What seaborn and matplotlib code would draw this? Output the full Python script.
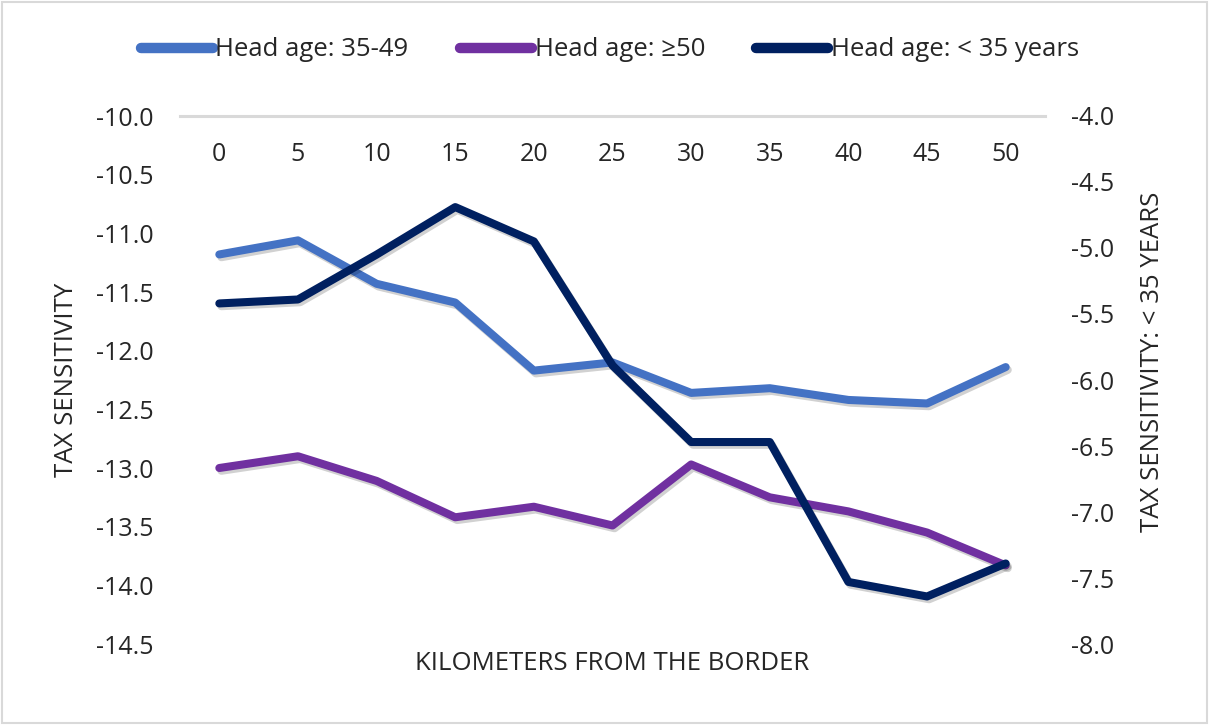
import numpy as np
import pandas as pd
import seaborn as sns
import matplotlib.pyplot as plt
import matplotlib.patheffects as pe
from matplotlib.lines import Line2D
from matplotlib.patches import Rectangle

#_____ data
km = [0, 5, 10, 15, 20, 25, 30, 35, 40, 45, 50]
age_35_49 = [-11.18, -11.06, -11.43, -11.59, -12.17, -12.10, -12.36, -12.32, -12.42, -12.45, -12.14]
age_50 = [-13.00, -12.90, -13.11, -13.42, -13.33, -13.49, -12.97, -13.25, -13.37, -13.55, -13.83]
age_u35 = [-5.42, -5.39, -5.05, -4.69, -4.95, -5.89, -6.47, -6.47, -7.53, -7.64, -7.39]

names = ['Head age: 35-49', 'Head age: ≥50', 'Head age: < 35 years']
colors = ['#4472C4', '#7030A0', '#002060']

df_left = pd.DataFrame({
    'km': km * 2,
    'val': age_35_49 + age_50,
    'group': [names[0]] * len(km) + [names[1]] * len(km),
})
df_right = pd.DataFrame({'km': km, 'val': age_u35})

sns.set_style('white')
plt.rcParams['font.family'] = ['Open Sans', 'DejaVu Sans']

fig = plt.figure(figsize=(12.09, 7.25), dpi=100)
ax = fig.add_axes([180 / 1209, 1 - 644 / 725, (1045 - 180) / 1209, (644 - 116) / 725])
ax2 = ax.twinx()

shadow = [pe.SimpleLineShadow(offset=(1.5, -2), alpha=0.18, shadow_color='black'), pe.Normal()]
lw = 5.8

sns.lineplot(data=df_left, x='km', y='val', hue='group', palette=colors[:2],
             lw=lw, ax=ax, legend=False, solid_capstyle='round', solid_joinstyle='round')
sns.lineplot(data=df_right, x='km', y='val', color=colors[2],
             lw=lw, ax=ax2, legend=False, solid_capstyle='round', solid_joinstyle='round')
for line in ax.lines + ax2.lines:
    line.set_path_effects(shadow)

ax.set_xlim(-2.5, 52.5)
ax.set_ylim(-14.5, -10.0)
ax.set_yticks(np.arange(-14.5, -9.99, 0.5))
ax.set_yticklabels([f'{v:.1f}' for v in np.arange(-14.5, -9.99, 0.5)])
ax2.set_ylim(-8.0, -4.0)
ax2.set_yticks(np.arange(-8.0, -3.99, 0.5))
ax2.set_yticklabels([f'{v:.1f}' for v in np.arange(-8.0, -3.99, 0.5)])

tick_fs = 18
label_fs = 18.5

ax.set_xticks(km)
ax.tick_params(axis='x', top=False, bottom=False, labeltop=True, labelbottom=False,
               pad=-37, labelsize=tick_fs, length=0)
ax.tick_params(axis='y', length=0, pad=19, labelsize=tick_fs)
ax2.tick_params(axis='y', length=0, pad=19, labelsize=tick_fs)

for a in (ax, ax2):
    for s in a.spines.values():
        s.set_visible(False)
ax.spines['top'].set_visible(True)
ax.spines['top'].set_color('#d9d9d9')
ax.spines['top'].set_linewidth(2.2)
ax.grid(False)
ax2.grid(False)

ax.xaxis.set_label_position('bottom')
ax.set_xlabel('KILOMETERS FROM THE BORDER', fontsize=label_fs, labelpad=5)
ax.set_ylabel('TAX SENSITIVITY', fontsize=label_fs)
ax2.set_ylabel('TAX SENSITIVITY: < 35 YEARS', fontsize=label_fs)
ax.yaxis.set_label_coords(-0.1165, 0.5)
ax2.yaxis.set_label_coords(1.1095, 0.534)

handles = [Line2D([], [], color=c, lw=7.5, solid_capstyle='round') for c in colors]
fig.legend(handles, names, loc='center', bbox_to_anchor=(610 / 1209, 1 - 50 / 725),
           ncol=3, frameon=False, fontsize=label_fs, handlelength=2.8, handletextpad=0.1,
           columnspacing=2.0)

fig.add_artist(Rectangle((0.002, 0.003), 0.996, 0.994, transform=fig.transFigure,
                         fill=False, edgecolor='#d9d9d9', lw=1.5))

fig.savefig('out.png', dpi=100)
